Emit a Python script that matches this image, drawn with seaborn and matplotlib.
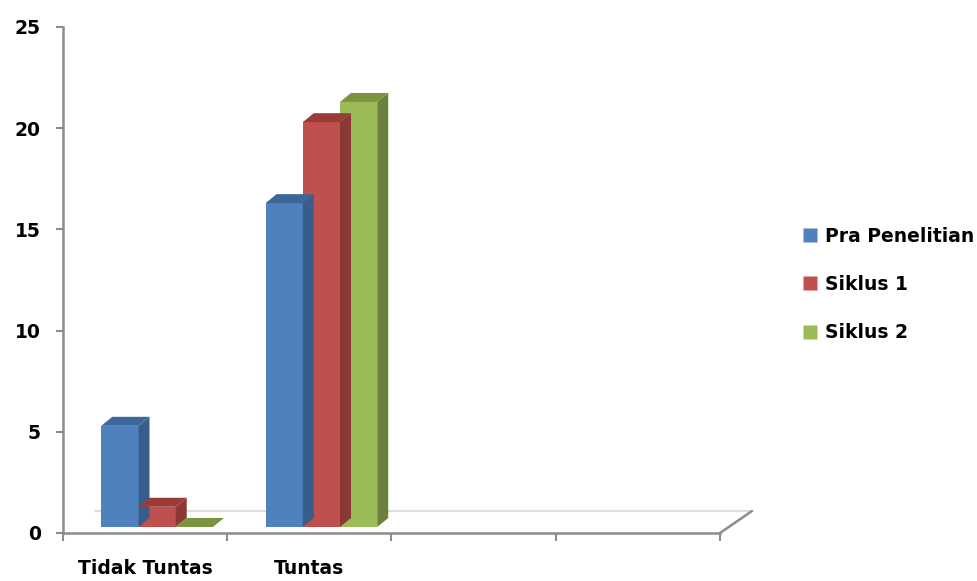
import matplotlib
matplotlib.use("Agg")
import matplotlib.pyplot as plt
from matplotlib.patches import Polygon
from matplotlib.lines import Line2D
from matplotlib.transforms import ScaledTranslation
import numpy as np
import pandas as pd
import seaborn as sns

# Data
categories = ["Tidak Tuntas", "Tuntas"]
series = ["Pra Penelitian", "Siklus 1", "Siklus 2"]
pra_penelitian = [5, 16]
siklus_1 = [1, 20]
siklus_2 = [0, 21]
y_ticks = [0, 5, 10, 15, 20, 25]

front_colors = ["#4F81BD", "#C0504D", "#9BBB59"]
side_colors = ["#385D8A", "#8C3836", "#6B803C"]
top_colors = ["#3D6699", "#9B3B38", "#7A9440"]

df = pd.DataFrame({
    "kategori": categories * 3,
    "siklus": [s for s in series for _ in categories],
    "jumlah": pra_penelitian + siklus_1 + siklus_2,
})

sns.set_theme(style="white")
plt.rcParams["font.family"] = ["DejaVu Sans"]
plt.rcParams["text.color"] = "black"

DPI = 100
FS = 13.5
fig = plt.figure(figsize=(9.77, 5.81), dpi=DPI)
ax = fig.add_axes([63 / 977, 1 - 533 / 581, (720 - 63) / 977, (533 - 27) / 581])

sns.barplot(data=df, x="kategori", y="jumlah", hue="siklus", order=categories,
            hue_order=series, palette=front_colors, saturation=1, width=0.68,
            edgecolor="none", linewidth=0, legend=False, ax=ax)

ax.set_xlim(-0.5, 3.5)
ax.set_ylim(0, 25)

# 3-D look: bars sit mid-depth on the floor, with a side and top face
shift_px = (12, 6)
depth_px = (11, 9)
shift = ScaledTranslation(shift_px[0] / DPI, shift_px[1] / DPI, fig.dpi_scale_trans)
trans = ax.transData + shift

p0 = ax.transData.transform((0, 0))
p1 = ax.transData.transform((1, 1))
ux = depth_px[0] / (p1[0] - p0[0])
uy = depth_px[1] / (p1[1] - p0[1])

for k, container in enumerate(ax.containers):
    for bar in container.patches:
        bar.set_transform(trans)
        bar.set_clip_on(False)
        x0 = bar.get_x()
        x1 = x0 + bar.get_width()
        y0 = bar.get_y()
        y1 = y0 + bar.get_height()
        side = Polygon([(x1, y0), (x1 + ux, y0 + uy), (x1 + ux, y1 + uy), (x1, y1)],
                       closed=True, facecolor=side_colors[k], edgecolor="none",
                       transform=trans, clip_on=False, zorder=bar.get_zorder())
        top = Polygon([(x0, y1), (x1, y1), (x1 + ux, y1 + uy), (x0 + ux, y1 + uy)],
                      closed=True, facecolor=top_colors[k], edgecolor="none",
                      transform=trans, clip_on=False, zorder=bar.get_zorder())
        ax.add_patch(side)
        ax.add_patch(top)

# Floor: back edge and right-hand depth edge
back = ax.transData + ScaledTranslation(32 / DPI, 22 / DPI, fig.dpi_scale_trans)
ax.add_line(Line2D([-0.5, 3.5], [0, 0], color="#DDDDDD", lw=1.5,
                   transform=back, clip_on=False, zorder=0.5))
ax.add_line(Line2D([3.5, 3.5 + 32 / (p1[0] - p0[0])], [0, 22 / (p1[1] - p0[1])],
                   color="#8C8C8C", lw=1.8, transform=ax.transData, clip_on=False))

# Axes styling
for s in ["top", "right"]:
    ax.spines[s].set_visible(False)
for s in ["left", "bottom"]:
    ax.spines[s].set_color("#8C8C8C")
    ax.spines[s].set_linewidth(1.8)

ax.set_yticks(y_ticks)
ax.set_yticklabels([str(t) for t in y_ticks], fontsize=FS, fontweight="bold", color="black")
ax.tick_params(axis="y", direction="out", length=5, width=1.5, color="#8C8C8C", pad=11, left=True)

ax.set_xticks([0, 1])
ax.set_xticklabels(categories, fontsize=FS, fontweight="bold", color="black")
ax.set_xticks([-0.5, 0.5, 1.5, 2.5, 3.5], minor=True)
ax.tick_params(axis="x", which="major", length=0, pad=19, bottom=False)
ax.tick_params(axis="x", which="minor", direction="out", length=6, width=1.5,
               color="#8C8C8C", bottom=True)
ax.set_xlabel("")
ax.set_ylabel("")
ax.grid(False)

# Legend
handles = [Line2D([], [], marker="s", linestyle="none", markersize=10,
                  markerfacecolor=c, markeredgecolor="none") for c in front_colors]
leg = fig.legend(handles, series, loc="upper left", bbox_to_anchor=(802 / 977, 1 - 227 / 581),
                 frameon=False, handlelength=0.8, handletextpad=0.45, labelspacing=1.55,
                 borderaxespad=0, borderpad=0, prop={"size": FS, "weight": "bold"})
for t in leg.get_texts():
    t.set_color("black")

fig.savefig("out.png", dpi=DPI, facecolor="white")
